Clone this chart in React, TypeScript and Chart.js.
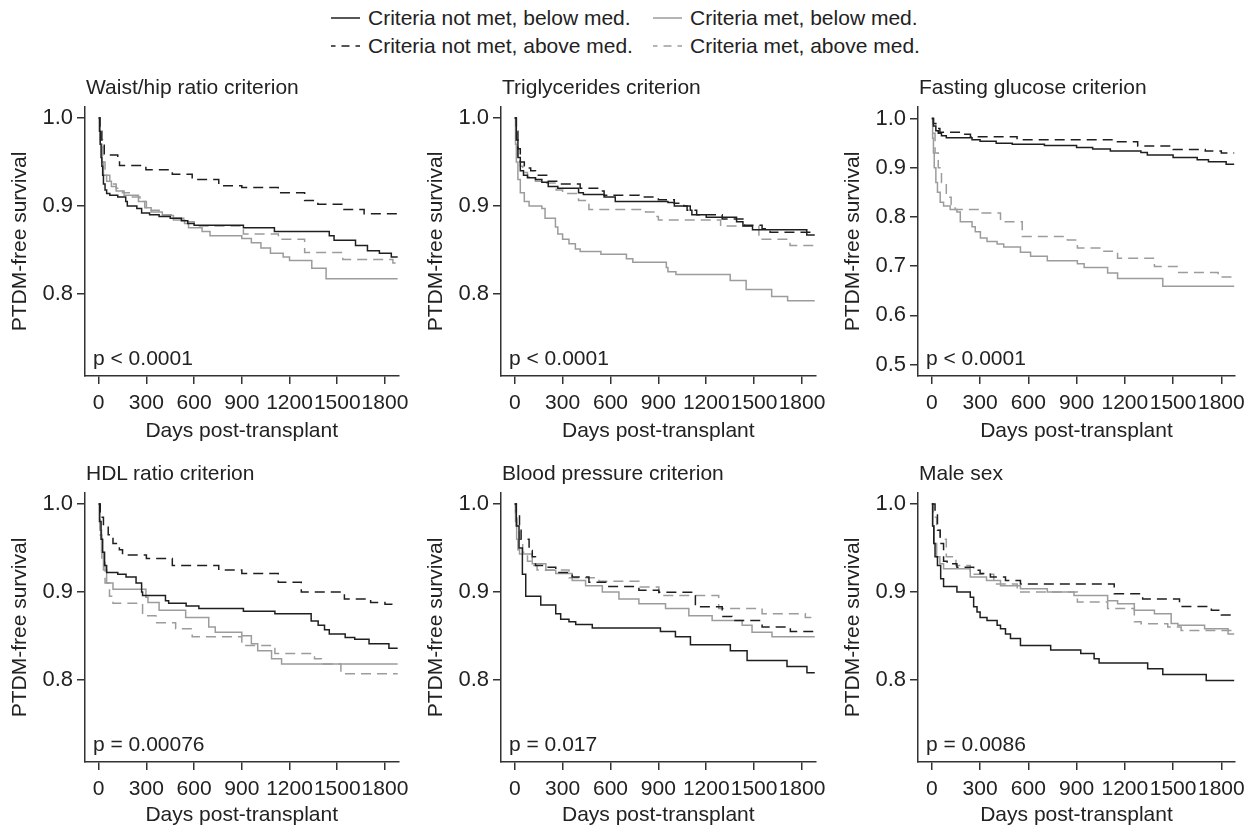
import React, { useEffect, useRef } from "react";
import { Chart, registerables } from "chart.js";

Chart.register(...registerables);

type Pair = [number, number];

// ---------- data ----------
const seriesLabels = [
  "Criteria not met, below med.",
  "Criteria met, below med.",
  "Criteria not met, above med.",
  "Criteria met, above med.",
];
const panelTitles = [
  "Waist/hip ratio criterion",
  "Triglycerides criterion",
  "Fasting glucose criterion",
  "HDL ratio criterion",
  "Blood pressure criterion",
  "Male sex",
];
const pValues = ["p < 0.0001", "p < 0.0001", "p < 0.0001", "p = 0.00076", "p = 0.017", "p = 0.0086"];
const xTicks = [0, 300, 600, 900, 1200, 1500, 1800];
const yTicksStd = [0.8, 0.9, 1.0];
const yTicksGlucose = [0.5, 0.6, 0.7, 0.8, 0.9, 1.0];
const xLabel = "Days post-transplant";
const yLabel = "PTDM-free survival";

// Waist/hip ratio
const waistNotMetBelow: Pair[] = [[0,1],[5,0.985],[10,0.97],[15,0.955],[20,0.945],[25,0.935],[30,0.925],[40,0.918],[50,0.914],[70,0.912],[120,0.91],[170,0.905],[180,0.9],[240,0.897],[270,0.892],[320,0.89],[380,0.888],[450,0.886],[520,0.883],[560,0.88],[600,0.878],[910,0.875],[1105,0.871],[1450,0.866],[1480,0.861],[1615,0.855],[1690,0.849],[1765,0.846],[1840,0.842],[1880,0.842]];
const waistNotMetAbove: Pair[] = [[0,1],[8,0.985],[20,0.97],[35,0.958],[120,0.955],[131,0.946],[297,0.941],[463,0.936],[588,0.93],[755,0.923],[900,0.921],[1129,0.915],[1295,0.906],[1378,0.902],[1534,0.896],[1669,0.891],[1880,0.891]];
const waistMetBelow: Pair[] = [[0,1],[10,0.97],[20,0.95],[30,0.935],[50,0.928],[80,0.922],[110,0.917],[160,0.912],[250,0.905],[290,0.898],[330,0.893],[400,0.889],[470,0.884],[540,0.88],[565,0.875],[650,0.871],[700,0.866],[900,0.863],[960,0.858],[1020,0.852],[1080,0.846],[1160,0.842],[1200,0.838],[1340,0.829],[1430,0.817],[1880,0.817]];
const waistMetAbove: Pair[] = [[0,1],[10,0.975],[25,0.95],[40,0.935],[70,0.925],[110,0.92],[150,0.915],[200,0.91],[260,0.905],[300,0.895],[380,0.89],[470,0.886],[540,0.882],[600,0.877],[910,0.868],[1130,0.862],[1295,0.847],[1535,0.839],[1850,0.835],[1880,0.835]];

// Triglycerides
const trigNotMetBelow: Pair[] = [[0,1],[10,0.975],[20,0.955],[35,0.94],[55,0.935],[80,0.932],[130,0.93],[170,0.927],[210,0.922],[270,0.92],[400,0.915],[430,0.913],[560,0.91],[630,0.905],[960,0.904],[1000,0.9],[1100,0.895],[1110,0.89],[1200,0.887],[1390,0.882],[1430,0.877],[1490,0.873],[1830,0.867],[1880,0.867]];
const trigNotMetAbove: Pair[] = [[0,1],[10,0.985],[20,0.965],[35,0.95],[60,0.943],[100,0.94],[130,0.935],[200,0.928],[280,0.925],[410,0.92],[540,0.917],[560,0.912],[780,0.91],[900,0.907],[1000,0.903],[1060,0.9],[1080,0.895],[1140,0.89],[1300,0.885],[1440,0.878],[1550,0.874],[1600,0.87],[1880,0.87]];
const trigMetBelow: Pair[] = [[0,1],[5,0.97],[10,0.95],[20,0.93],[35,0.915],[60,0.905],[90,0.9],[170,0.897],[190,0.886],[255,0.876],[270,0.868],[300,0.862],[340,0.857],[380,0.851],[410,0.848],[540,0.845],[700,0.84],[740,0.836],[950,0.83],[960,0.825],[1010,0.822],[1350,0.815],[1450,0.805],[1610,0.797],[1710,0.792],[1880,0.792]];
const trigMetAbove: Pair[] = [[0,1],[10,0.975],[20,0.955],[35,0.945],[50,0.938],[80,0.933],[130,0.928],[200,0.926],[260,0.918],[300,0.914],[400,0.906],[465,0.896],[820,0.893],[880,0.888],[900,0.884],[1290,0.877],[1530,0.862],[1725,0.855],[1880,0.855]];

// Fasting glucose
const glucNotMetBelow: Pair[] = [[0,1],[10,0.985],[25,0.975],[40,0.97],[60,0.965],[90,0.961],[250,0.957],[300,0.954],[400,0.95],[500,0.948],[700,0.945],[900,0.941],[1000,0.938],[1110,0.934],[1300,0.931],[1340,0.926],[1500,0.921],[1650,0.916],[1720,0.912],[1830,0.907],[1880,0.907]];
const glucNotMetAbove: Pair[] = [[0,1],[10,0.99],[25,0.98],[50,0.972],[200,0.968],[240,0.963],[530,0.957],[1120,0.953],[1280,0.944],[1500,0.937],[1700,0.934],[1800,0.93],[1880,0.93]];
const glucMetBelow: Pair[] = [[0,1],[5,0.96],[10,0.93],[15,0.9],[25,0.87],[35,0.85],[52,0.83],[73,0.822],[114,0.815],[156,0.81],[177,0.79],[250,0.78],[270,0.77],[302,0.757],[343,0.75],[406,0.745],[447,0.739],[551,0.728],[614,0.72],[718,0.711],[905,0.705],[947,0.697],[1093,0.686],[1155,0.675],[1436,0.659],[1880,0.659]];
const glucMetAbove: Pair[] = [[0,1],[8,0.97],[20,0.93],[40,0.9],[60,0.87],[90,0.84],[120,0.825],[145,0.815],[300,0.808],[427,0.79],[562,0.76],[843,0.753],[905,0.737],[1070,0.73],[1155,0.716],[1384,0.699],[1530,0.687],[1780,0.678],[1880,0.678]];

// HDL ratio
const hdlNotMetBelow: Pair[] = [[0,1],[5,0.98],[15,0.96],[25,0.945],[37,0.93],[50,0.922],[120,0.92],[172,0.917],[235,0.91],[270,0.9],[276,0.896],[420,0.89],[440,0.887],[550,0.884],[630,0.881],[910,0.878],[1108,0.875],[1336,0.867],[1380,0.862],[1420,0.857],[1450,0.852],[1550,0.848],[1610,0.846],[1700,0.841],[1825,0.836],[1880,0.836]];
const hdlNotMetAbove: Pair[] = [[0,1],[10,0.985],[30,0.975],[60,0.965],[90,0.955],[130,0.948],[150,0.942],[300,0.938],[463,0.93],[755,0.925],[900,0.921],[1129,0.911],[1274,0.9],[1545,0.892],[1710,0.888],[1800,0.886],[1880,0.886]];
const hdlMetBelow: Pair[] = [[0,1],[8,0.97],[18,0.945],[30,0.925],[50,0.91],[90,0.903],[297,0.894],[310,0.888],[380,0.879],[547,0.871],[692,0.86],[733,0.854],[900,0.85],[960,0.841],[1000,0.833],[1087,0.824],[1150,0.818],[1880,0.818]];
const hdlMetAbove: Pair[] = [[0,1],[8,0.965],[20,0.935],[40,0.91],[68,0.895],[90,0.887],[276,0.873],[360,0.865],[484,0.858],[588,0.849],[900,0.839],[1108,0.83],[1357,0.824],[1400,0.818],[1523,0.807],[1880,0.807]];

// Blood pressure
const bpNotMetBelow: Pair[] = [[0,1],[10,0.975],[27,0.95],[48,0.92],[69,0.895],[163,0.885],[257,0.875],[288,0.869],[340,0.866],[382,0.863],[486,0.859],[913,0.855],[1007,0.849],[1101,0.84],[1351,0.833],[1456,0.822],[1706,0.815],[1831,0.808],[1880,0.808]];
const bpNotMetAbove: Pair[] = [[0,1],[10,0.99],[30,0.97],[40,0.96],[90,0.947],[110,0.94],[130,0.93],[195,0.928],[257,0.922],[360,0.917],[465,0.911],[570,0.906],[778,0.902],[903,0.8995],[1132,0.883],[1300,0.872],[1362,0.8675],[1550,0.86],[1727,0.855],[1880,0.855]];
const bpMetBelow: Pair[] = [[0,1],[5,0.98],[12,0.96],[20,0.948],[30,0.943],[110,0.932],[195,0.9245],[257,0.921],[360,0.913],[444,0.907],[549,0.9],[653,0.892],[778,0.8865],[945,0.881],[1091,0.873],[1237,0.8675],[1425,0.862],[1487,0.854],[1612,0.849],[1880,0.849]];
const bpMetAbove: Pair[] = [[0,1],[5,0.99],[15,0.975],[30,0.96],[50,0.945],[80,0.935],[110,0.93],[140,0.925],[340,0.916],[528,0.912],[778,0.9055],[903,0.896],[1278,0.881],[1550,0.875],[1821,0.871],[1880,0.871]];

// Male sex
const maleNotMetBelow: Pair[] = [[0,1],[5,0.975],[12,0.955],[20,0.94],[35,0.93],[55,0.915],[73,0.906],[156,0.9],[239,0.894],[260,0.883],[281,0.877],[300,0.871],[343,0.8675],[406,0.862],[427,0.858],[458,0.852],[489,0.847],[551,0.839],[739,0.834],[926,0.83],[1009,0.824],[1040,0.819],[1342,0.8125],[1436,0.806],[1706,0.7993],[1880,0.7993]];
const maleNotMetAbove: Pair[] = [[0,1],[20,0.99],[35,0.97],[52,0.955],[73,0.935],[95,0.932],[156,0.928],[260,0.9245],[300,0.921],[364,0.917],[458,0.913],[551,0.909],[1134,0.898],[1311,0.892],[1540,0.8835],[1738,0.879],[1800,0.8736],[1880,0.8736]];
const maleMetBelow: Pair[] = [[0,1],[5,0.975],[15,0.955],[30,0.94],[50,0.932],[73,0.9264],[239,0.917],[340,0.913],[427,0.907],[551,0.9036],[718,0.9],[884,0.896],[1093,0.89],[1155,0.8865],[1259,0.879],[1384,0.875],[1488,0.864],[1530,0.862],[1696,0.858],[1842,0.852],[1880,0.852]];
const maleMetAbove: Pair[] = [[0,1],[10,0.985],[30,0.97],[52,0.96],[90,0.94],[150,0.93],[239,0.92],[385,0.909],[531,0.9],[905,0.8884],[1093,0.881],[1259,0.866],[1301,0.8637],[1467,0.86],[1550,0.8562],[1880,0.8562]];

// series per panel, in the order of seriesLabels
const panelSeries: Pair[][][] = [
  [waistNotMetBelow, waistMetBelow, waistNotMetAbove, waistMetAbove],
  [trigNotMetBelow, trigMetBelow, trigNotMetAbove, trigMetAbove],
  [glucNotMetBelow, glucMetBelow, glucNotMetAbove, glucMetAbove],
  [hdlNotMetBelow, hdlMetBelow, hdlNotMetAbove, hdlMetAbove],
  [bpNotMetBelow, bpMetBelow, bpNotMetAbove, bpMetAbove],
  [maleNotMetBelow, maleMetBelow, maleNotMetAbove, maleMetAbove],
];
const panelYRange: [number, number][] = [
  [0.7065, 1.0125], [0.7065, 1.0125], [0.4765, 1.0235],
  [0.7065, 1.0125], [0.7065, 1.0125], [0.7065, 1.0125],
];
const panelYTicks = [yTicksStd, yTicksStd, yTicksGlucose, yTicksStd, yTicksStd, yTicksStd];
const xRange: [number, number] = [-86, 1885];

// ---------- styling / layout ----------
const FONT = "'Liberation Sans', Arial, Helvetica, sans-serif";
const TEXT = "#222222";
const AXIS = "#333333";
const BLACK = "#1f1f1f";
const GRAY = "#9c9c9c";
const seriesColor = [BLACK, GRAY, BLACK, GRAY];
const seriesDashed = [false, false, true, true];
const drawOrder = [0, 2, 1, 3]; // black series on top

const areaLeft = [85, 501, 918];
const areaRight = [400, 818, 1235];
const canvasWidth = [416, 417, 427];
const areaTop = [107, 493];
const areaBottom = [376, 762];
const canvasHeight = [386, 376];
const xTitlePadBottom = [12, 4];
const Y_AXIS_W = 85;
const TOP_PAD = 37;

function Panel({ idx }: { idx: number }) {
  const ref = useRef<HTMLCanvasElement | null>(null);
  const col = idx % 3;
  const row = Math.floor(idx / 3);
  const cLeft = areaLeft[col] - Y_AXIS_W;
  const cTop = areaTop[row] - TOP_PAD;
  const w = canvasWidth[col];
  const h = canvasHeight[row];
  const padRight = cLeft + w - areaRight[col];
  const xAxisH = cTop + h - areaBottom[row];

  useEffect(() => {
    if (!ref.current) return;
    const datasets = drawOrder.map((s) => ({
      label: seriesLabels[s],
      data: panelSeries[idx][s].map(([x, y]) => ({ x, y })),
      borderColor: seriesColor[s],
      borderWidth: 1.5,
      borderDash: seriesDashed[s] ? [10, 6] : [],
      stepped: true as const,
      pointRadius: 0,
      fill: false,
    }));
    const font = { family: FONT, size: 21 };
    const yFont = { family: FONT, size: 22 };
    const chart = new Chart(ref.current, {
      type: "line",
      data: { datasets },
      options: {
        animation: false,
        responsive: false,
        devicePixelRatio: 1,
        layout: { padding: { left: 0, right: padRight, top: TOP_PAD, bottom: 0 } },
        plugins: { legend: { display: false }, tooltip: { enabled: false }, title: { display: false } },
        scales: {
          x: {
            type: "linear",
            min: xRange[0],
            max: xRange[1],
            afterBuildTicks: (s: any) => { s.ticks = xTicks.map((v) => ({ value: v })); },
            afterFit: (s: any) => { s.height = xAxisH; },
            grid: { display: true, drawOnChartArea: false, drawTicks: true, tickLength: 8, color: AXIS, lineWidth: 1.5 },
            border: { display: true, color: AXIS, width: 1.5 },
            ticks: { autoSkip: false, maxRotation: 0, minRotation: 0, padding: 7, color: TEXT, font, callback: (v: any) => String(v) },
            title: { display: true, text: xLabel, color: TEXT, font, padding: { top: 0, bottom: xTitlePadBottom[row] } },
          },
          y: {
            type: "linear",
            min: panelYRange[idx][0],
            max: panelYRange[idx][1],
            afterBuildTicks: (s: any) => { s.ticks = panelYTicks[idx].map((v) => ({ value: v })); },
            afterFit: (s: any) => { s.width = Y_AXIS_W; },
            grid: { display: true, drawOnChartArea: false, drawTicks: true, tickLength: 8, color: AXIS, lineWidth: 1.5 },
            border: { display: true, color: AXIS, width: 1.5 },
            ticks: { autoSkip: false, padding: 4, color: TEXT, font: yFont, callback: (v: any) => Number(v).toFixed(1) },
            title: { display: true, text: yLabel, color: TEXT, font, padding: { top: 8, bottom: 0 } },
          },
        },
      },
    } as any);
    return () => chart.destroy();
  }, [idx]);

  const textStyle: React.CSSProperties = {
    position: "absolute",
    fontFamily: FONT,
    fontSize: 21,
    lineHeight: "24px",
    color: TEXT,
    whiteSpace: "nowrap",
  };
  return (
    <>
      <canvas
        ref={ref}
        width={w}
        height={h}
        style={{ position: "absolute", left: cLeft, top: cTop, width: w, height: h }}
      />
      <div style={{ ...textStyle, left: areaLeft[col] + 1, top: areaTop[row] - 20 - 11.7 }}>{panelTitles[idx]}</div>
      <div style={{ ...textStyle, left: areaLeft[col] + 8, top: areaBottom[row] - 18 - 11.7 }}>{pValues[idx]}</div>
    </>
  );
}

const legendRowsY = [18, 46];
const legendColX = [331, 653];
const legendOrder = [[0, 1], [2, 3]];

function Legend() {
  return (
    <>
      {legendOrder.map((rowItems, r) =>
        rowItems.map((s, c) => (
          <React.Fragment key={`${r}-${c}`}>
            <svg
              width={29}
              height={10}
              style={{ position: "absolute", left: legendColX[c], top: legendRowsY[r] - 5 }}
            >
              <line
                x1={0}
                y1={5}
                x2={29}
                y2={5}
                stroke={seriesColor[s]}
                strokeWidth={1.5}
                strokeDasharray={seriesDashed[s] ? "4.5 6 8 6 4.5" : undefined}
              />
            </svg>
            <div
              style={{
                position: "absolute",
                left: legendColX[c] + 37,
                top: legendRowsY[r] - 11.7,
                fontFamily: FONT,
                fontSize: 21,
                lineHeight: "24px",
                color: TEXT,
                whiteSpace: "nowrap",
              }}
            >
              {seriesLabels[s]}
            </div>
          </React.Fragment>
        ))
      )}
    </>
  );
}

export default function App() {
  return (
    <div
      style={{
        position: "fixed",
        left: 0,
        top: 0,
        width: 1260,
        height: 832,
        overflow: "hidden",
        background: "#ffffff",
      }}
    >
      <Legend />
      {panelTitles.map((_, i) => (
        <Panel key={i} idx={i} />
      ))}
    </div>
  );
}
